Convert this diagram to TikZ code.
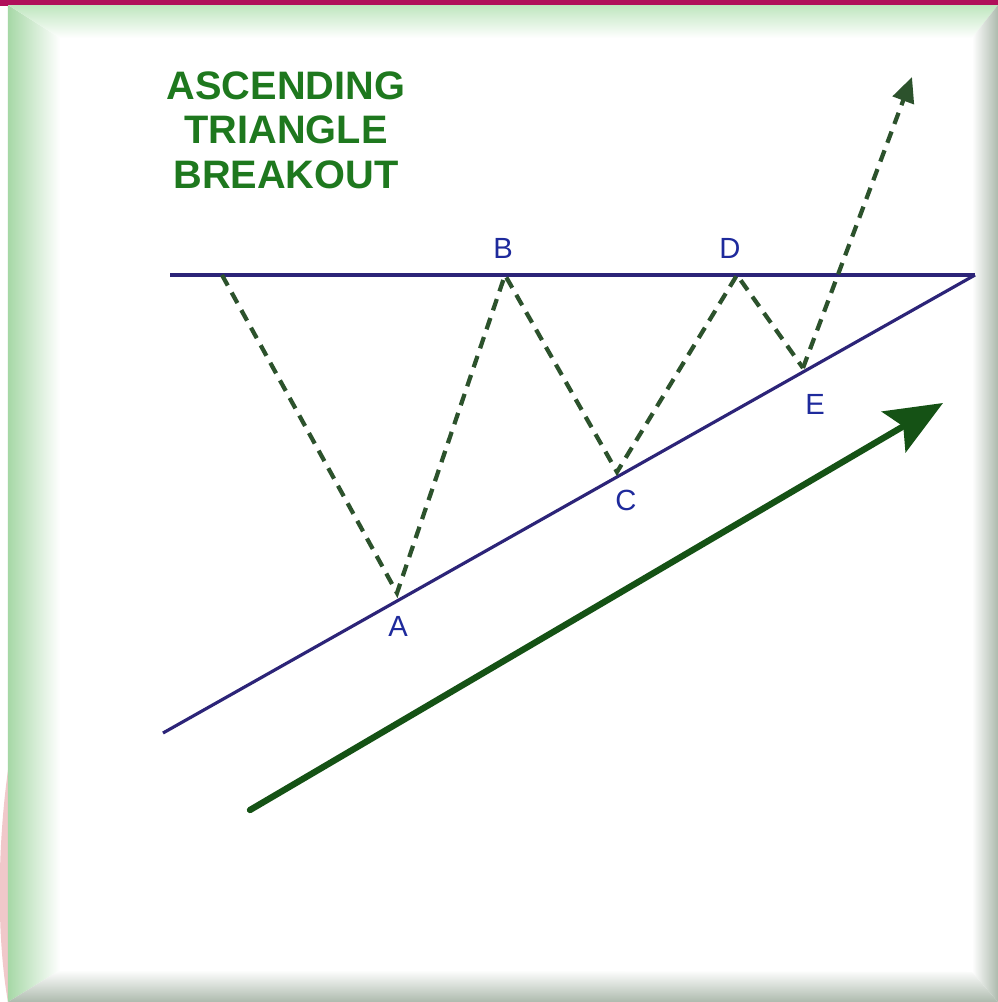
\documentclass[tikz,border=0pt]{standalone}
\usepackage{fontspec}
\setmainfont{Liberation Sans}
\usetikzlibrary{arrows.meta}
\definecolor{magframe}{HTML}{B0105A}
\definecolor{titlegreen}{HTML}{1E781E}
\definecolor{navyline}{HTML}{2C2478}
\definecolor{dashgreen}{HTML}{2C522C}
\definecolor{arrowgreen}{HTML}{155215}
\definecolor{labelblue}{HTML}{1E2A9C}
\definecolor{bevelgreen}{HTML}{A6D8A6}
\definecolor{beveltop}{HTML}{BEE6BE}
\definecolor{bevelgray}{HTML}{ADBAAD}
\definecolor{pinkish}{HTML}{F0C8CA}
\begin{document}
\begin{tikzpicture}[x=0.01cm,y=-0.01cm,
  titletext/.style={text=titlegreen,font=\bfseries\fontsize{11.3}{12.7}\selectfont,align=center},
  ptlabel/.style={text=labelblue,font=\fontsize{8.3}{9}\selectfont,inner sep=0pt},
  levelline/.style={draw=navyline,line width=0.9pt},
  pricepath/.style={draw=dashgreen,line width=1.2pt,dash pattern=on 3.4pt off 2.3pt,line join=miter},
  trendarrow/.style={draw=arrowgreen,line width=1.8pt,line cap=round,-{Stealth[length=0.57cm,width=0.47cm,inset=0.11cm]}}]
\useasboundingbox (0,0) rectangle (998,1002);
\fill[white] (0,0) rectangle (998,1002);
% pink sliver at left edge
\fill[pinkish] (8,770) .. controls (-3,850) and (-3,940) .. (8,1002) -- cycle;
% bevelled frame
\shade[left color=bevelgreen,right color=white] (8,5) -- (60,38) -- (60,970) -- (8,1002) -- cycle;
\shade[top color=beveltop,bottom color=white] (8,5) -- (998,5) -- (972,38) -- (60,38) -- cycle;
\shade[left color=white,right color=bevelgray] (972,38) -- (998,5) -- (998,1002) -- (972,972) -- cycle;
\shade[top color=white,bottom color=bevelgray] (8,1002) -- (60,970) -- (972,972) -- (998,1002) -- cycle;
% top magenta strip
\fill[magframe] (0,0) rectangle (998,5);
\fill[magframe] (0,0) rectangle (8,6);
% title
\node[titletext] (title) at (286,130) {ASCENDING\\TRIANGLE\\BREAKOUT};
% key coordinates
\coordinate (h0) at (170,275);
\coordinate (apex) at (975,275);
\coordinate (s0) at (163,733);
\coordinate (start) at (222,275);
\coordinate (A) at (397,593);
\coordinate (B) at (505,275);
\coordinate (C) at (617,472);
\coordinate (D) at (737,275);
\coordinate (E) at (803,368);
\coordinate (tip) at (912,77);
\coordinate (g0) at (250,810);
\coordinate (g1) at (943,403);
% resistance and support lines
\draw[levelline] (h0) -- (apex);
\draw[levelline] (s0) -- (apex);
% price path
\draw[pricepath] (start) -- (A) -- (B) -- (C) -- (D) -- (E);
\draw[pricepath,-{Triangle[length=0.25cm,width=0.22cm]}] (E) -- (tip);
% labels
\node[ptlabel] (lblA) at (398,626) {A};
\node[ptlabel] (lblB) at (503,248) {B};
\node[ptlabel] (lblC) at (626,500) {C};
\node[ptlabel] (lblD) at (730,248) {D};
\node[ptlabel] (lblE) at (815,404) {E};
% trend arrow
\draw[trendarrow] (g0) -- (g1);
\end{tikzpicture}
\end{document}
